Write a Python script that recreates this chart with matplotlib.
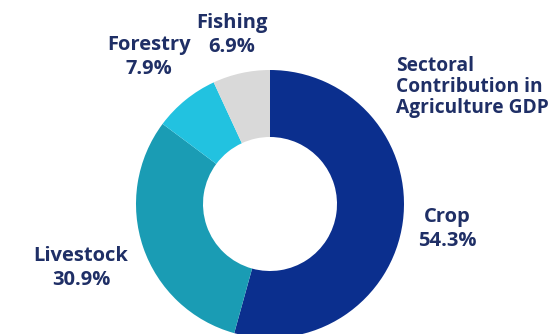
import matplotlib
matplotlib.use("Agg")
import matplotlib.pyplot as plt

sectors = ["Crop", "Livestock", "Forestry", "Fishing"]
shares = [54.3, 30.9, 7.9, 6.9]
colors = ["#0b2f8e", "#1a9cb4", "#22c2e0", "#d9d9d9"]
title = "Sectoral\nContribution in\nAgriculture GDP"
text_color = "#1f2f66"

W, H = 557, 334
fig = plt.figure(figsize=(W / 100, H / 100), dpi=100)
ax = fig.add_axes([0, 0, 1, 1])
ax.set_xlim(0, W)
ax.set_ylim(0, H)
ax.set_aspect("equal")
ax.axis("off")

cx, cy, r = 270, H - 204, 134
ax.pie(shares, colors=colors, startangle=90, counterclock=False,
       radius=r, center=(cx, cy),
       wedgeprops=dict(width=r * 0.5, linewidth=0))
ax.set_xlim(0, W)
ax.set_ylim(0, H)

font = dict(family=["Open Sans", "DejaVu Sans"], fontweight="bold", color=text_color)

# label positions (x, y from top) for each sector
label_pos = {"Crop": (447, 229), "Livestock": (81, 268),
             "Forestry": (149, 57), "Fishing": (232, 35)}
for name, val in zip(sectors, shares):
    x, y = label_pos[name]
    ax.text(x, H - y, f"{name}\n{val}%", ha="center", va="center",
            fontsize=14.5, linespacing=1.32, **font)

ax.text(396, H - 87, title, ha="left", va="center", fontsize=13.8,
        linespacing=1.06, **font)

fig.savefig("out.png", dpi=100)
